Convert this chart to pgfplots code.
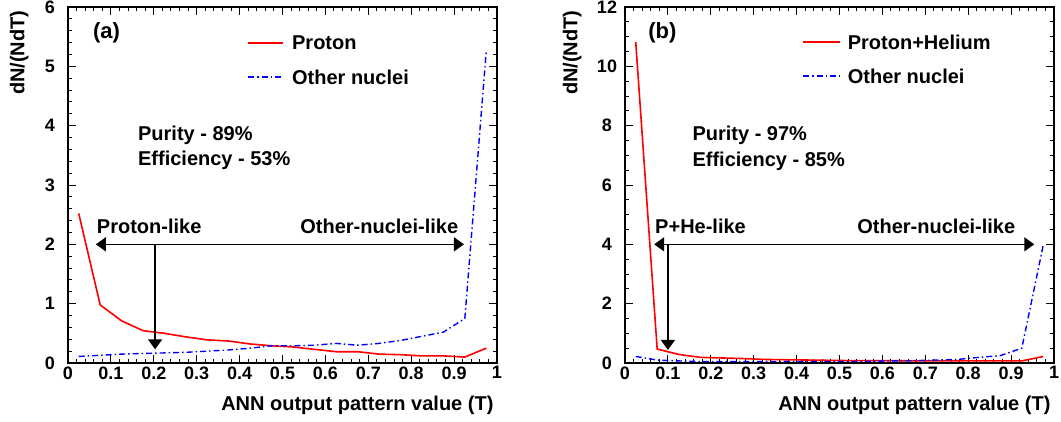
\documentclass[border=0pt]{standalone}
\usepackage{fontspec}
\setmainfont{Liberation Sans}
\usepackage{pgfplots}
\pgfplotsset{compat=1.18}
\usetikzlibrary{arrows.meta}

\newcommand\tf{\fontsize{18}{21}\selectfont\bfseries}
\newcommand\lf{\fontsize{20}{24}\selectfont\bfseries}
\newcommand\af{\fontsize{20}{24}\selectfont\bfseries}

\tikzset{
  note/.style={font=\af, inner sep=0pt},
  arr/.style={line width=1.5pt},
  redline/.style={color=red, line width=1.6pt},
  blueline/.style={color=blue, line width=1.4pt, dash pattern=on 6pt off 3pt on 1.5pt off 3pt},
}

\pgfplotsset{
  rootframe/.style={
    scale only axis, width=429pt, height=356pt,
    xmin=0, xmax=1,
    xtick={0,0.1,0.2,0.3,0.4,0.5,0.6,0.7,0.8,0.9,1},
    minor x tick num=4,
    tick align=inside, tick pos=both,
    major tick length=8pt, minor tick length=4pt,
    axis line style={line width=1.2pt},
    every tick/.style={black, line width=1pt},
    /pgf/number format/assume math mode=true,
    ticklabel style={font=\tf},
    yticklabel style={anchor=center, xshift=-18pt},
    xlabel={ANN output pattern value (T)},
    ylabel={dN/(NdT)},
    label style={font=\lf},
    xlabel style={at={(axis description cs:1,0)}, anchor=north east, yshift=-29pt},
  },
}

\begin{document}
\begin{tikzpicture}
% ---- panel (a)
\begin{axis}[rootframe,
  at={(68pt,58pt)}, anchor=south west,
  ymin=0, ymax=6, ytick={0,1,2,3,4,5,6}, minor y tick num=4,
  ylabel style={at={(axis description cs:-0.084,1)}, anchor=south east},
]
\addplot[redline] coordinates {
  (0.025,2.52)(0.075,0.98)(0.125,0.71)(0.175,0.545)(0.225,0.50)(0.275,0.44)
  (0.325,0.39)(0.375,0.37)(0.425,0.32)(0.475,0.29)(0.525,0.27)(0.575,0.23)
  (0.625,0.19)(0.675,0.19)(0.725,0.15)(0.775,0.14)(0.825,0.12)(0.875,0.12)
  (0.925,0.10)(0.975,0.25)
};
\addplot[blueline] coordinates {
  (0.025,0.11)(0.075,0.13)(0.125,0.15)(0.175,0.16)(0.225,0.17)(0.275,0.18)
  (0.325,0.20)(0.375,0.22)(0.425,0.25)(0.475,0.29)(0.525,0.29)(0.575,0.30)
  (0.625,0.33)(0.675,0.30)(0.725,0.33)(0.775,0.38)(0.825,0.45)(0.875,0.52)
  (0.925,0.75)(0.975,5.26)
};
% legend
\draw[redline] (rel axis cs:0.420,0.899) -- (rel axis cs:0.500,0.899);
\node[note, anchor=west] at (rel axis cs:0.522,0.899) {Proton};
\draw[blueline] (rel axis cs:0.420,0.803) -- (rel axis cs:0.500,0.803);
\node[note, anchor=west] at (rel axis cs:0.522,0.803) {Other nuclei};
% annotations
\node[note, anchor=west, font=\fontsize{22}{26}\selectfont\bfseries] at (axis cs:0.058,5.56) {(a)};
\node[note, anchor=west] at (axis cs:0.163,3.84) {Purity - 89\%};
\node[note, anchor=west] at (axis cs:0.163,3.41) {Efficiency - 53\%};
\node[note, anchor=west] at (axis cs:0.067,2.30) {Proton-like};
\node[note, anchor=east] at (axis cs:0.910,2.30) {Other-nuclei-like};
\draw[arr, {Triangle[length=10pt,width=14pt]}-{Triangle[length=10pt,width=14pt]}]
  (axis cs:0.065,2) -- (axis cs:0.923,2);
\draw[arr, -{Triangle[length=10pt,width=14pt]}]
  (axis cs:0.203,2) -- (axis cs:0.203,0.23);
\end{axis}
% ---- panel (b)
\begin{axis}[rootframe,
  at={(625pt,58pt)}, anchor=south west,
  ymin=0, ymax=12, ytick={0,2,4,6,8,10,12}, minor y tick num=3,
  ylabel style={at={(axis description cs:-0.093,1)}, anchor=south east},
]
\addplot[redline] coordinates {
  (0.025,10.82)(0.075,0.47)(0.125,0.29)(0.175,0.19)(0.225,0.17)(0.275,0.15)
  (0.325,0.12)(0.375,0.11)(0.425,0.10)(0.475,0.09)(0.525,0.08)(0.575,0.08)
  (0.625,0.08)(0.675,0.07)(0.725,0.07)(0.775,0.07)(0.825,0.07)(0.875,0.07)
  (0.925,0.07)(0.975,0.22)
};
\addplot[blueline] coordinates {
  (0.025,0.22)(0.075,0.10)(0.125,0.07)(0.175,0.05)(0.225,0.05)(0.275,0.05)
  (0.325,0.05)(0.375,0.05)(0.425,0.05)(0.475,0.05)(0.525,0.05)(0.575,0.06)
  (0.625,0.07)(0.675,0.08)(0.725,0.10)(0.775,0.12)(0.825,0.19)(0.875,0.25)
  (0.925,0.50)(0.975,3.98)
};
% legend
\draw[redline] (rel axis cs:0.416,0.902) -- (rel axis cs:0.500,0.902);
\node[note, anchor=west] at (rel axis cs:0.519,0.902) {Proton+Helium};
\draw[blueline] (rel axis cs:0.416,0.806) -- (rel axis cs:0.500,0.806);
\node[note, anchor=west] at (rel axis cs:0.519,0.806) {Other nuclei};
% annotations
\node[note, anchor=west, font=\fontsize{22}{26}\selectfont\bfseries] at (axis cs:0.054,11.12) {(b)};
\node[note, anchor=west] at (axis cs:0.157,7.68) {Purity - 97\%};
\node[note, anchor=west] at (axis cs:0.157,6.81) {Efficiency - 85\%};
\node[note, anchor=west] at (axis cs:0.070,4.6) {P+He-like};
\node[note, anchor=east] at (axis cs:0.910,4.6) {Other-nuclei-like};
\draw[arr, {Triangle[length=10pt,width=14pt]}-{Triangle[length=10pt,width=14pt]}]
  (axis cs:0.068,4) -- (axis cs:0.954,4);
\draw[arr, -{Triangle[length=10pt,width=14pt]}]
  (axis cs:0.1,4) -- (axis cs:0.1,0.44);
\end{axis}
\pgfresetboundingbox
\path (0,0) rectangle (1061pt,421pt);
\end{tikzpicture}
\end{document}
